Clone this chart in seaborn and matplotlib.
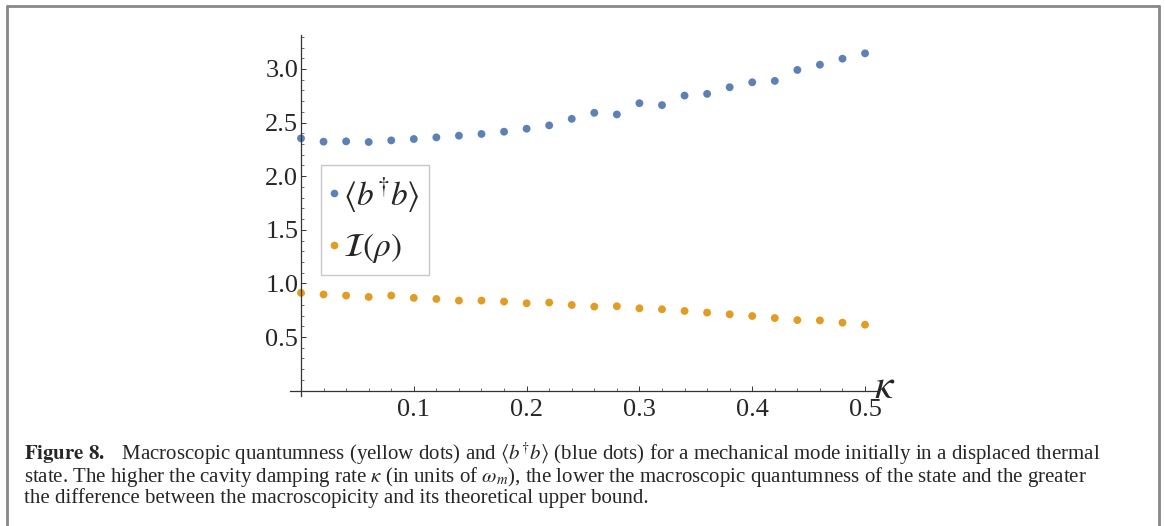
import numpy as np
import pandas as pd
import matplotlib
matplotlib.use("Agg")
import matplotlib.pyplot as plt
from matplotlib.lines import Line2D
from matplotlib.ticker import MultipleLocator, FixedLocator
import seaborn as sns

# ---- data ----
kappa = [0.00, 0.02, 0.04, 0.06, 0.08, 0.10, 0.12, 0.14, 0.16, 0.18, 0.20, 0.22, 0.24,
         0.26, 0.28, 0.30, 0.32, 0.34, 0.36, 0.38, 0.40, 0.42, 0.44, 0.46, 0.48, 0.50]
bdagb = [2.353, 2.322, 2.325, 2.319, 2.334, 2.347, 2.362, 2.378, 2.394, 2.415, 2.443, 2.474, 2.535,
         2.591, 2.576, 2.681, 2.663, 2.752, 2.768, 2.830, 2.876, 2.889, 2.991, 3.040, 3.096, 3.146]
quantumness = [0.912, 0.897, 0.887, 0.874, 0.887, 0.865, 0.855, 0.840, 0.840, 0.831, 0.815, 0.822, 0.799,
               0.784, 0.787, 0.768, 0.759, 0.743, 0.728, 0.712, 0.696, 0.677, 0.658, 0.655, 0.634, 0.615]
series_labels = [r'$\langle b^{\dagger} b\rangle$', r'$\mathcal{I}(\rho)$']
series_colors = ['#5E81B5', '#E19C24']
xticks = [0.1, 0.2, 0.3, 0.4, 0.5]
xticklabels = ['0.1', '0.2', '0.3', '0.4', '0.5']
yticks = [0.5, 1.0, 1.5, 2.0, 2.5, 3.0]
yticklabels = ['0.5', '1.0', '1.5', '2.0', '2.5', '3.0']
caption_lines = [
    r'$\mathbf{Figure\ 8.}\quad$Macroscopic quantumness (yellow dots) and '
    r'$\langle b^{\dagger}b\rangle$ (blue dots) for a mechanical mode initially in a displaced thermal',
    r'state. The higher the cavity damping rate $\kappa$ (in units of $\omega_m$), '
    r'the lower the macroscopic quantumness of the state and the greater',
    'the difference between the macroscopicity and its theoretical upper bound.',
]

df = pd.DataFrame({
    'kappa': kappa + kappa,
    'value': bdagb + quantumness,
    'series': [series_labels[0]] * len(kappa) + [series_labels[1]] * len(kappa),
})

# ---- style ----
sns.set_style("white")
plt.rcParams['font.family'] = ['Liberation Serif', 'DejaVu Serif']
plt.rcParams['mathtext.fontset'] = 'stix'

W, H = 1165, 526
fig = plt.figure(figsize=(W / 100, H / 100), dpi=100)
# axes box in pixels: left 290, right 877, top 35, bottom 396
L, R, T, B = 290, 877, 35, 396
ax = fig.add_axes([L / W, 1 - B / H, (R - L) / W, (B - T) / H])
ax.set_facecolor('none')

sns.scatterplot(data=df, x='kappa', y='value', hue='series',
                palette=dict(zip(series_labels, series_colors)),
                s=32, linewidth=0, ax=ax, legend=True)

ax.set_xlim(-0.00975, 0.5106)
ax.set_ylim(-0.05, 3.317)

for side in ['top', 'right']:
    ax.spines[side].set_visible(False)
ax.spines['left'].set_position(('data', 0))
ax.spines['bottom'].set_position(('data', 0))
for side in ['left', 'bottom']:
    ax.spines[side].set_color('#333333')
    ax.spines[side].set_linewidth(0.9)

ax.xaxis.set_major_locator(FixedLocator(xticks))
ax.set_xticklabels(xticklabels)
ax.yaxis.set_major_locator(FixedLocator(yticks))
ax.set_yticklabels(yticklabels)
ax.xaxis.set_minor_locator(MultipleLocator(0.02))
ax.yaxis.set_minor_locator(MultipleLocator(0.1))
ax.tick_params(axis='x', which='major', direction='in', length=3.5, width=0.7,
               color='#333333', labelsize=19, pad=6, bottom=True)
ax.tick_params(axis='x', which='minor', direction='in', length=2.0, width=0.6,
               color='#555555', bottom=True)
ax.tick_params(axis='y', which='major', direction='in', length=3.5, width=0.7,
               color='#333333', labelsize=19, pad=2, left=True)
ax.tick_params(axis='y', which='minor', direction='in', length=2.0, width=0.6,
               color='#555555', left=True)
ax.set_xlabel('')
ax.set_ylabel('')

ax.annotate(r'$\kappa$', xy=(1.0, 0), xycoords=('axes fraction', 'data'),
            xytext=(-2, -5), textcoords='offset points', fontsize=30,
            ha='left', va='baseline')

handles, labels = ax.get_legend_handles_labels()
for h in handles:
    h.set_markersize(5.5)
leg = ax.legend(handles, labels, loc='upper left',
                bbox_to_anchor=((321 - L) / (R - L), (B - 165) / (B - T)),
                borderaxespad=0, frameon=True, fancybox=False, fontsize=24,
                handletextpad=0.2, handlelength=0.15, borderpad=0.3,
                labelspacing=0.5)
leg.get_frame().set_edgecolor('#bbbbbb')
leg.get_frame().set_linewidth(1.0)

# ---- caption (single multi-line text; baseline of last line) ----
fig.text(24 / W, 1 - 503 / H, '\n'.join(caption_lines), fontsize=15,
         ha='left', va='baseline', linespacing=0.92)

# ---- outer frame ----
fc = '#888888'
fig.add_artist(Line2D([7 / W, 7 / W], [0, 1 - 6 / H], transform=fig.transFigure, color=fc, lw=2))
fig.add_artist(Line2D([7 / W, 1159 / W], [1 - 6 / H, 1 - 6 / H], transform=fig.transFigure, color=fc, lw=2))
fig.add_artist(Line2D([1159 / W, 1159 / W], [0, 1 - 6 / H], transform=fig.transFigure, color=fc, lw=2))

fig.savefig('out.png', dpi=100, facecolor='white')
